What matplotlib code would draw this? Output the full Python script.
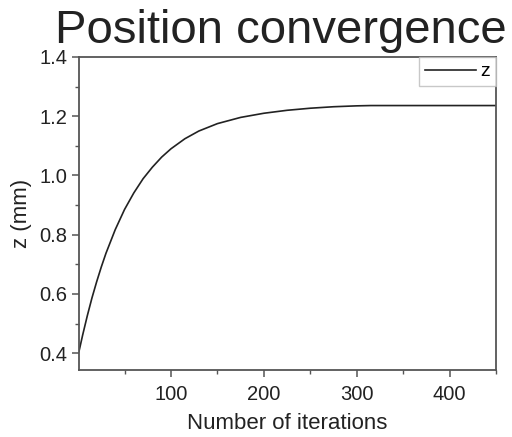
import matplotlib
matplotlib.use("Agg")
import matplotlib.pyplot as plt
from matplotlib.ticker import MultipleLocator

plt.rcParams['font.family'] = ['Liberation Sans', 'DejaVu Sans']

iterations = [1, 5, 10, 15, 20, 25, 30, 40, 50, 60, 70, 80, 90, 100, 115, 130,
              150, 175, 200, 225, 250, 275, 300, 315, 350, 400, 450]
z_values = [0.406, 0.462, 0.527, 0.587, 0.641, 0.691, 0.737, 0.817, 0.885, 0.941,
            0.989, 1.028, 1.062, 1.090, 1.124, 1.150, 1.175, 1.196, 1.210, 1.220,
            1.227, 1.232, 1.235, 1.236, 1.236, 1.236, 1.236]

fig = plt.figure(figsize=(5.12, 4.37), dpi=100)
ax = fig.add_axes([0.1543, 0.1533, 0.8147, 0.7163])

ax.plot(iterations, z_values, color='#222222', lw=1.2, label='z')
ax.set_xlim(1, 450)
ax.set_ylim(0.343, 1.4)
ax.xaxis.set_minor_locator(MultipleLocator(50))
ax.yaxis.set_minor_locator(MultipleLocator(0.1))
ax.set_yticks([0.4, 0.6, 0.8, 1.0, 1.2, 1.4])
ax.set_xticks([100, 200, 300, 400])

for s in ax.spines.values():
    s.set_color('#555555')
    s.set_linewidth(1.3)
ax.tick_params(axis='both', which='major', direction='out', length=5, width=1.1,
               color='#555555', labelsize=14.5, labelcolor='#222222', top=False, right=False)
ax.tick_params(axis='x', which='major', pad=6)
ax.tick_params(axis='both', which='minor', direction='out', length=3, width=1.0,
               color='#555555', top=False, right=False)

ax.set_xlabel('Number of iterations', fontsize=16, color='#222222', labelpad=6)
ax.set_ylabel('z (mm)', fontsize=16, color='#222222', labelpad=5)
ax.set_title('Position convergence', fontsize=34, color='#222222', pad=10, x=0.483)

leg = ax.legend(loc='upper right', fontsize=14, frameon=True, fancybox=False,
                handlelength=2.6, borderaxespad=0, borderpad=0.3, handletextpad=0.25)
leg.get_frame().set_edgecolor('#bbbbbb')
leg.get_frame().set_linewidth(1.0)

fig.savefig('out.png', dpi=100)
